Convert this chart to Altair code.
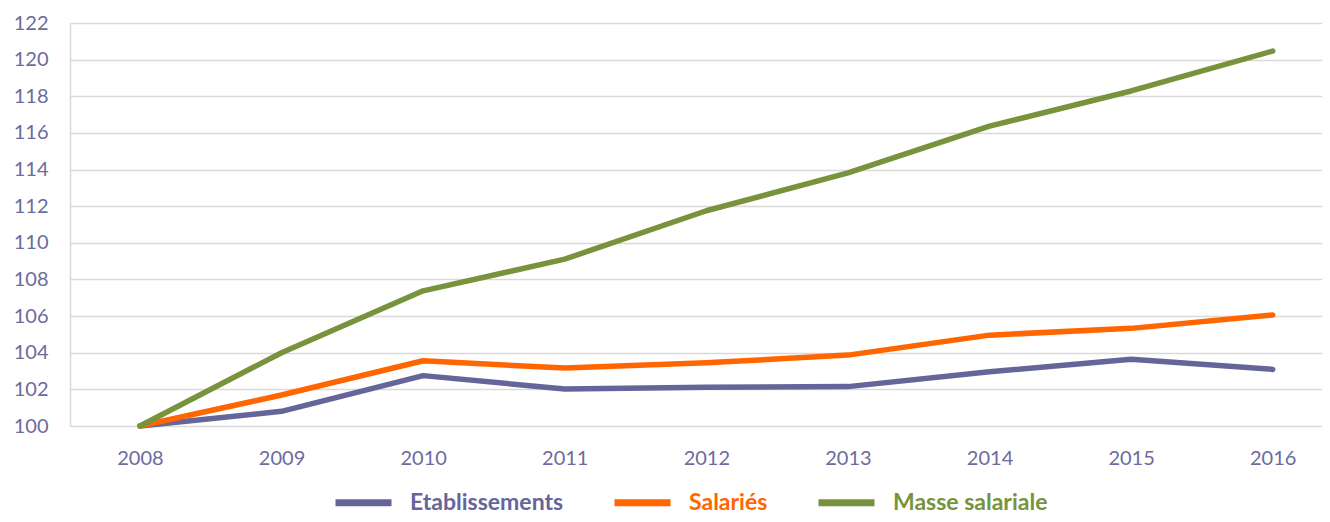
import altair as alt
import pandas as pd

years = [2008, 2009, 2010, 2011, 2012, 2013, 2014, 2015, 2016]
etablissements = [100, 100.8, 102.75, 102.02, 102.11, 102.15, 102.96, 103.64, 103.09]
salaries = [100, 101.69, 103.56, 103.16, 103.45, 103.87, 104.96, 105.33, 106.06]
masse = [100, 104.0, 107.38, 109.11, 111.75, 113.82, 116.37, 118.29, 120.47]

series_names = ["Etablissements", "Salariés", "Masse salariale"]
series_colors = ["#65659A", "#FF6600", "#77933C"]

rows = []
for name, vals in zip(series_names, [etablissements, salaries, masse]):
    for y, v in zip(years, vals):
        rows.append({"year": y, "value": v, "serie": name})
df = pd.DataFrame(rows)

label_color_expr = (
    "datum.value == 'Etablissements' ? '#65659A' : "
    "(datum.value == 'Salariés' ? '#FF6600' : '#77933C')"
)

chart = alt.Chart(df).mark_line(
    strokeWidth=5.5, strokeJoin="round", strokeCap="round"
).encode(
    x=alt.X(
        "year:Q",
        scale=alt.Scale(domain=[2007.506, 2016.348], nice=False, zero=False),
        axis=alt.Axis(
            values=years, format="d", title=None, grid=False, ticks=False,
            domain=False, labelFontSize=20, labelFont="Lato",
            labelColor="#6B6B9E", labelPadding=22, labelFlush=False,
        ),
    ),
    y=alt.Y(
        "value:Q",
        scale=alt.Scale(domain=[100, 122], nice=False, zero=False),
        axis=alt.Axis(
            values=list(range(100, 123, 2)), title=None, ticks=False,
            domain=True, domainColor="#D9D9D9", domainWidth=1.5,
            gridColor="#D9D9D9", gridWidth=1.5,
            labelFontSize=20, labelFont="Lato", labelColor="#6B6B9E",
            labelPadding=22,
        ),
    ),
    color=alt.Color(
        "serie:N",
        scale=alt.Scale(domain=series_names, range=series_colors),
        sort=series_names,
        legend=alt.Legend(
            title=None, orient="none", direction="horizontal",
            legendX=262, legendY=448,
            symbolType="stroke", symbolSize=3136, symbolStrokeWidth=7,
            labelFontSize=23, labelFont="Lato", labelFontWeight="bold",
            labelColor=alt.expr(label_color_expr),
            labelOffset=15, columnPadding=36, labelLimit=300,
        ),
    ),
).properties(
    width=1252, height=403,
    autosize=alt.AutoSizeParams(type="none"),
    padding={"left": 62, "top": 15, "right": 0, "bottom": 88},
).configure_view(stroke=None)

chart.save("out.html", embed_options={"renderer": "svg", "actions": False})
